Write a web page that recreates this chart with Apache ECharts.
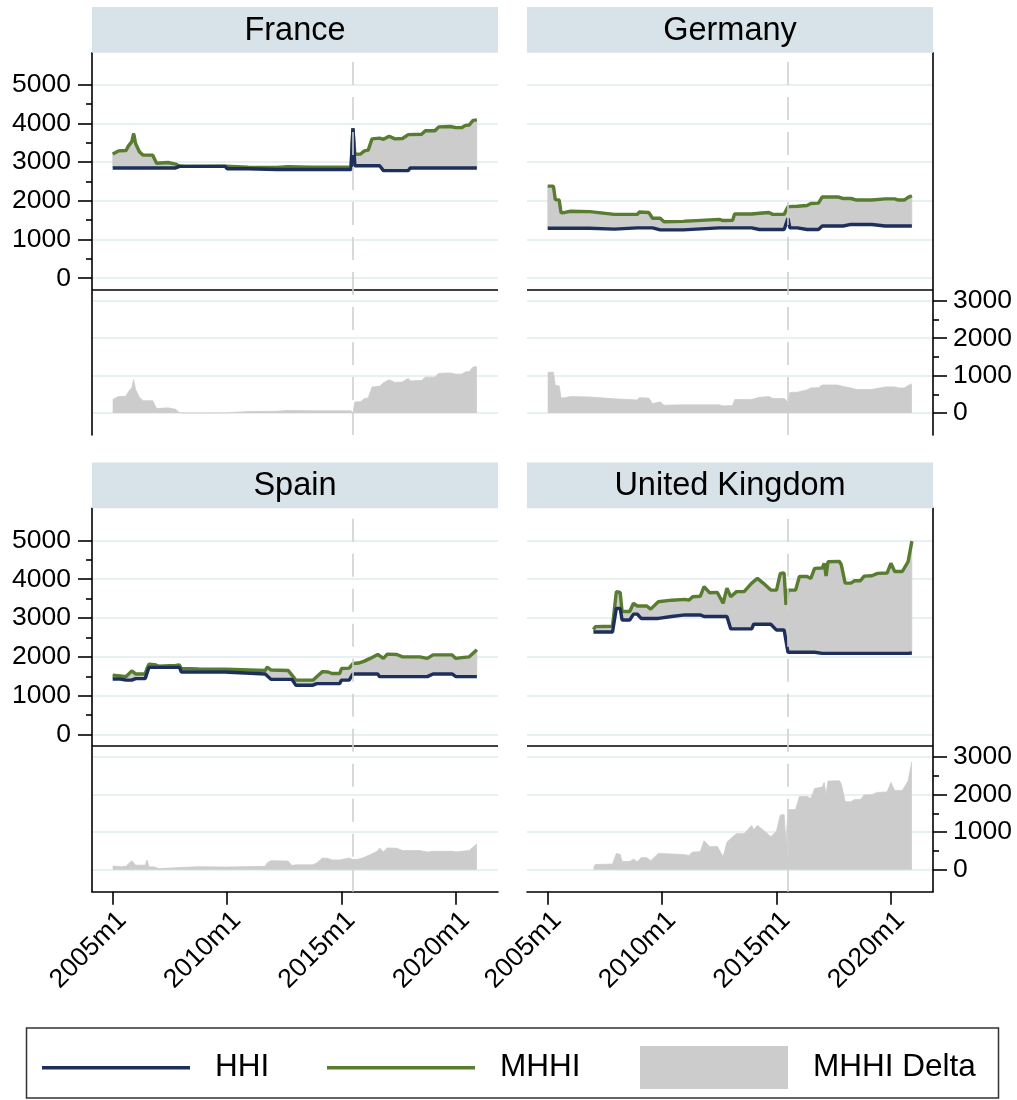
<!DOCTYPE html>
<html>
<head>
<meta charset="utf-8">
<title>HHI and MHHI by country</title>
<script src="https://cdn.jsdelivr.net/npm/echarts@6/dist/echarts.min.js"></script>
<style>
  html, body { margin: 0; padding: 0; background: #ffffff; }
  #chart { width: 1017px; height: 1100px; }
</style>
</head>
<body>
<div id="chart"></div>
<script>
// ---- Data: monthly observations at change points (Stata-style "YYYYmM") ----
const countries = ['France', 'Germany', 'Spain', 'United Kingdom'];

const franceMonths = ['2005m1','2005m4','2005m8','2005m9','2005m11','2005m12','2006m1','2006m3','2006m5','2006m10',
  '2006m12','2007m6','2007m10','2007m11','2007m12','2008m3','2009m12','2010m1','2010m12','2011m1',
  '2012m3','2012m4','2012m9','2013m9','2013m10','2013m11','2015m6','2015m7','2015m8','2015m11',
  '2016m1','2016m3','2016m5','2016m9','2016m11','2017m2','2017m5','2017m9','2017m12','2018m1',
  '2018m7','2018m9','2019m2','2019m4','2019m10','2019m11','2020m1','2020m4','2020m6','2020m8',
  '2020m10','2020m12'];
const franceHHI = [2850,2850,2850,2850,2850,2850,2850,2850,2850,2850,
  2850,2850,2850,2850,2890,2890,2890,2830,2830,2810,
  2810,2810,2810,2810,2830,2810,2810,3870,2905,2905,
  2905,2905,2905,2905,2780,2780,2780,2780,2780,2850,
  2850,2850,2850,2850,2850,2850,2850,2850,2850,2850,
  2850,2850];
const franceMHHI = [3210,3290,3300,3400,3530,3740,3480,3270,3180,3180,
  2970,2990,2950,2930,2900,2890,2895,2880,2870,2860,
  2860,2890,2880,2870,2890,2870,2870,3870,3200,3210,
  3290,3310,3600,3620,3590,3670,3600,3610,3710,3710,
  3720,3810,3810,3910,3920,3960,3890,3890,3950,3960,
  4080,4090];

const germanyMonths = ['2005m1','2005m4','2005m5','2005m7','2005m8','2005m10','2006m1','2006m11','2006m12','2007m12',
  '2008m12','2009m1','2009m6','2009m8','2009m12','2010m2','2010m12','2011m1','2012m7','2012m9',
  '2013m2','2013m3','2013m12','2014m1','2014m4','2014m5','2014m9','2014m11','2015m5','2015m6',
  '2015m7','2015m8','2015m12','2016m1','2016m5','2016m7','2016m11','2017m1','2017m9','2017m10',
  '2017m12','2018m4','2018m5','2018m7','2019m3','2019m4','2019m10','2020m3','2020m5','2020m8',
  '2020m10','2020m12'];
const germanyHHI = [1290,1290,1290,1290,1290,1290,1290,1290,1290,1270,
  1300,1300,1300,1300,1250,1250,1250,1300,1300,1300,
  1300,1300,1300,1260,1260,1260,1260,1260,1260,1280,
  1550,1300,1300,1260,1260,1260,1260,1350,1350,1350,
  1350,1390,1390,1390,1390,1390,1350,1350,1350,1350,
  1350,1350];
const germanyMHHI = [2380,2380,2030,2020,1690,1700,1730,1720,1670,1650,
  1650,1710,1700,1550,1550,1460,1470,1520,1520,1490,
  1500,1660,1660,1660,1680,1710,1700,1650,1650,1650,
  1850,1850,1860,1870,1880,1930,1940,2100,2100,2140,
  2060,2060,2100,2020,2020,2050,2050,2050,2020,2020,
  2090,2130];

const spainMonths = ['2005m1','2005m5','2005m8','2005m11','2006m1','2006m6','2006m7','2006m8','2006m11','2007m1',
  '2007m10','2007m12','2008m1','2008m10','2009m12','2010m1','2011m9','2011m10','2011m12','2012m9',
  '2012m11','2013m1','2013m10','2013m12','2014m3','2014m6','2014m8','2014m12','2015m1','2015m5',
  '2015m7','2015m10','2016m1','2016m4','2016m8','2016m9','2016m11','2017m1','2017m6','2017m9',
  '2018m6','2018m10','2019m1','2019m11','2020m1','2020m4','2020m8','2020m12'];
const spainHHI = [1430,1430,1400,1400,1440,1440,1440,1730,1730,1730,
  1730,1730,1610,1610,1610,1560,1560,1560,1420,1420,
  1420,1270,1270,1310,1310,1310,1310,1310,1400,1400,
  1560,1560,1560,1560,1560,1490,1490,1490,1490,1490,
  1490,1490,1560,1560,1490,1490,1490,1490];
const spainMHHI = [1530,1510,1490,1640,1560,1560,1700,1810,1800,1760,
  1780,1790,1700,1690,1680,1640,1650,1740,1660,1650,
  1530,1400,1400,1490,1620,1610,1570,1570,1700,1710,
  1830,1840,1890,1960,2060,2070,1960,2070,2060,2000,
  2000,1960,2050,2050,1960,1980,2000,2180];

const ukMonths = ['2007m1','2007m2','2007m11','2008m1','2008m3','2008m4','2008m8','2008m10','2008m12','2009m2',
  '2009m5','2009m7','2009m11','2009m12','2010m6','2011m1','2011m3','2011m5','2011m9','2011m11',
  '2012m2','2012m6','2012m9','2012m11','2013m1','2013m4','2013m8','2013m12','2014m1','2014m3',
  '2014m6','2014m10','2015m1','2015m3','2015m5','2015m6','2015m7','2015m11','2016m1','2016m5',
  '2016m7','2016m9','2017m1','2017m2','2017m3','2017m4','2017m10','2017m11','2018m1','2018m4',
  '2018m6','2018m9','2018m11','2019m3','2019m6','2019m11','2020m1','2020m3','2020m7','2020m10',
  '2020m12'];
const ukHHI = [2640,2640,2640,3250,3250,2950,2950,3100,3100,2990,
  2990,2990,2990,3040,3040,3080,3080,3080,3080,3040,
  3040,3040,3040,3040,2720,2720,2720,2720,2840,2840,
  2840,2840,2690,2690,2690,2690,2120,2120,2120,2120,
  2120,2120,2090,2090,2090,2090,2090,2090,2090,2090,
  2090,2090,2090,2090,2090,2090,2090,2090,2090,2090,
  2100];
const ukMHHI = [2700,2780,2790,3680,3660,3170,3170,3380,3310,3310,
  3310,3230,3420,3430,3460,3480,3460,3550,3560,3810,
  3650,3660,3380,3770,3550,3680,3680,3900,3900,4020,
  3900,3720,3720,4150,4160,3340,3720,3720,4070,4070,
  4020,4280,4290,4410,4080,4450,4460,4370,3900,3900,
  3960,3960,4080,4090,4150,4160,4410,4200,4200,4450,
  4980];

// ---- Axis ticks and labels ----
const xTickLabels = ['2005m1', '2010m1', '2015m1', '2020m1'];
const levelTicks = [0, 1000, 2000, 3000, 4000, 5000];
const levelMinorTicks = [500, 1500, 2500, 3500, 4500];
const deltaTicks = [0, 1000, 2000, 3000];
const deltaMinorTicks = [500, 1500, 2500];
const policyMonth = '2015m7';
const legendNames = ['HHI', 'MHHI', 'MHHI Delta'];

// ---- Styling / layout ----
const FONT = "'Liberation Sans', Arial, Helvetica, sans-serif";
const NAVY = '#1e2f5c';
const GREEN = '#587c30';
const GRAY = '#cccccc';
const STRIP = '#d7e3e8';
const GRID_LINE = '#e8f0f2';
const INK = '#000000';

const PLOT_W = 406;
const STRIP_H = 45.7;
const panelBoxes = [
  { left: 92,  top: 52.7,  height: 382.3, side: 'left',  xLabels: false },
  { left: 527, top: 52.7,  height: 382.3, side: 'right', xLabels: false },
  { left: 92,  top: 508.3, height: 383.4, side: 'left',  xLabels: true },
  { left: 527, top: 508.3, height: 383.4, side: 'right', xLabels: true }
];
// Upper band of each panel uses the level scale, lower band the delta scale.
const LEVEL_RANGE = [-4050, 5827];
const DELTA_RANGE = [-585, 9625];
const BAND_SPLIT = -290;
const X_RANGE = [2004.095, 2021.84];

const toYear = s => { const p = s.split('m'); return Number(p[0]) + (Number(p[1]) - 1) / 12; };
const xTickValues = xTickLabels.map(toYear);
const policyX = toYear(policyMonth);

const countryData = [
  { name: countries[0], months: franceMonths,  hhi: franceHHI,  mhhi: franceMHHI },
  { name: countries[1], months: germanyMonths, hhi: germanyHHI, mhhi: germanyMHHI },
  { name: countries[2], months: spainMonths,   hhi: spainHHI,   mhhi: spainMHHI },
  { name: countries[3], months: ukMonths,      hhi: ukHHI,      mhhi: ukMHHI }
];

const labelFont = { fontFamily: FONT, fontSize: 26.5, color: INK };
const hidden = { axisLine: { show: false }, axisTick: { show: false }, axisLabel: { show: false }, splitLine: { show: false } };

const grid = [], xAxis = [], yAxis = [], series = [], graphic = [];

panelBoxes.forEach((b, g) => {
  const isLeft = b.side === 'left';
  grid.push({ left: b.left, top: b.top, width: PLOT_W, height: b.height, containLabel: false });

  // x axis: only the bottom row carries the date axis
  if (b.xLabels) {
    xAxis.push({
      gridIndex: g, type: 'value', min: X_RANGE[0], max: X_RANGE[1], position: 'bottom',
      axisLine: { show: true, onZero: false, lineStyle: { color: INK, width: 1.6 } },
      axisTick: { show: true, customValues: xTickValues, length: 13, lineStyle: { color: INK, width: 1.6 } },
      axisLabel: {
        show: true, customValues: xTickValues, rotate: 45, margin: 15, verticalAlign: 'top', ...labelFont,
        formatter: v => { const i = xTickValues.findIndex(t => Math.abs(t - v) < 1e-6); return i >= 0 ? xTickLabels[i] : ''; }
      },
      splitLine: { show: false }
    });
  } else {
    xAxis.push({ gridIndex: g, type: 'value', min: X_RANGE[0], max: X_RANGE[1], show: false });
  }

  const common = { gridIndex: g, type: 'value', position: b.side, ...hidden };
  // level scale, major
  yAxis.push({ ...common, min: LEVEL_RANGE[0], max: LEVEL_RANGE[1],
    axisLine: { show: true, onZero: false, lineStyle: { color: INK, width: 1.6 } },
    axisTick: { show: isLeft, customValues: levelTicks, length: 14, lineStyle: { color: INK, width: 1.6 } },
    axisLabel: { show: isLeft, customValues: levelTicks, margin: 21, formatter: v => String(v), ...labelFont },
    splitLine: { show: true, lineStyle: { color: GRID_LINE, width: 2 } }
  });
  // level scale, minor ticks
  yAxis.push({ ...common, min: LEVEL_RANGE[0], max: LEVEL_RANGE[1],
    axisTick: { show: isLeft, customValues: levelMinorTicks, length: 6, lineStyle: { color: INK, width: 1.6 } }
  });
  // delta scale, major
  yAxis.push({ ...common, min: DELTA_RANGE[0], max: DELTA_RANGE[1],
    axisTick: { show: !isLeft, customValues: deltaTicks, length: 14, lineStyle: { color: INK, width: 1.6 } },
    axisLabel: { show: !isLeft, customValues: deltaTicks, margin: 20, formatter: v => String(v), ...labelFont },
    splitLine: { show: true, lineStyle: { color: GRID_LINE, width: 2 } }
  });
  // delta scale, minor ticks
  yAxis.push({ ...common, min: DELTA_RANGE[0], max: DELTA_RANGE[1],
    axisTick: { show: !isLeft, customValues: deltaMinorTicks, length: 6, lineStyle: { color: INK, width: 1.6 } }
  });

  // panel title strip
  graphic.push({ type: 'rect', silent: true, z: 10,
    shape: { x: b.left, y: b.top - STRIP_H, width: PLOT_W, height: STRIP_H }, style: { fill: STRIP } });
  graphic.push({ type: 'text', silent: true, z: 11, x: b.left + PLOT_W / 2, y: b.top - STRIP_H / 2 + 1,
    style: { text: countryData[g].name, fontSize: 32.5, fontFamily: FONT, fill: INK,
      align: 'center', verticalAlign: 'middle', textAlign: 'center', textVerticalAlign: 'middle' } });
});

countryData.forEach((c, g) => {
  const xs = c.months.map(toYear);
  const yLevel = g * 4, yDelta = g * 4 + 2;
  const pts = arr => xs.map((x, i) => [x, arr[i]]);
  const delta = c.mhhi.map((v, i) => v - c.hhi[i]);

  // shaded band between HHI and MHHI, one polygon through both curves
  series.push({
    type: 'custom', name: 'MHHI Delta', xAxisIndex: g, yAxisIndex: yLevel, silent: true, z: 1,
    itemStyle: { color: GRAY },
    data: xs.map((x, i) => [x, c.hhi[i], c.mhhi[i]]),
    encode: { x: 0, y: [1, 2] },
    renderItem: (params, api) => {
      if (params.dataIndex !== 0) return null;
      const upper = xs.map((x, i) => api.coord([x, c.mhhi[i]]));
      const lower = xs.map((x, i) => api.coord([x, c.hhi[i]])).reverse();
      return { type: 'polygon', shape: { points: upper.concat(lower) }, style: { fill: GRAY, stroke: GRAY, lineWidth: 0.6 } };
    },
    markLine: { silent: true, symbol: 'none', animation: false, label: { show: false },
      data: [{ yAxis: BAND_SPLIT, lineStyle: { color: INK, width: 1.6, type: 'solid' } }] }
  });
  series.push({ type: 'line', name: 'MHHI', xAxisIndex: g, yAxisIndex: yLevel, data: pts(c.mhhi),
    symbol: 'none', lineStyle: { color: GREEN, width: 3.4 }, itemStyle: { color: GREEN }, z: 3 });
  series.push({ type: 'line', name: 'HHI', xAxisIndex: g, yAxisIndex: yLevel, data: pts(c.hhi),
    symbol: 'none', lineStyle: { color: NAVY, width: 3.4 }, itemStyle: { color: NAVY }, z: 4 });
  // lower band: MHHI Delta on its own scale, with the policy-date marker across the panel
  series.push({ type: 'line', name: 'MHHI Delta', xAxisIndex: g, yAxisIndex: yDelta, data: pts(delta),
    symbol: 'none', silent: true, lineStyle: { width: 0.8, color: GRAY }, itemStyle: { color: GRAY },
    areaStyle: { color: GRAY, opacity: 1 }, z: 1,
    markLine: { silent: true, symbol: 'none', animation: false, label: { show: false },
      data: [{ xAxis: policyX, lineStyle: { color: '#d0d0d0', width: 1.6, type: [23, 12] } }] } });
});

// legend frame
graphic.push({ type: 'rect', silent: true, z: 0,
  shape: { x: 26.5, y: 1028, width: 972, height: 70 }, style: { fill: 'none', stroke: '#333333', lineWidth: 1.5 } });

// legend keys are 148x43; line keys are a 3.5px bar through the middle of that box
const lineIcon = 'path://M0,0M0,20H148V23.5H0ZM148,43';
const legendBase = {
  orient: 'horizontal', top: 1046, padding: 0, itemWidth: 148, itemHeight: 43, selectedMode: false,
  itemStyle: { borderWidth: 0 },
  textStyle: { fontFamily: FONT, fontSize: 31.5, lineHeight: 36, color: INK, padding: [0, 0, 0, 20] }
};
const legend = [
  { ...legendBase, left: 42,  data: [{ name: legendNames[0], icon: lineIcon }] },
  { ...legendBase, left: 327, data: [{ name: legendNames[1], icon: lineIcon }] },
  { ...legendBase, left: 640, data: [{ name: legendNames[2], icon: 'rect' }] }
];

const chart = echarts.init(document.getElementById('chart'), null, { renderer: 'canvas' });
chart.setOption({
  backgroundColor: '#ffffff',
  animation: false,
  textStyle: { fontFamily: FONT },
  grid, xAxis, yAxis, series, legend, graphic
});
</script>
</body>
</html>
